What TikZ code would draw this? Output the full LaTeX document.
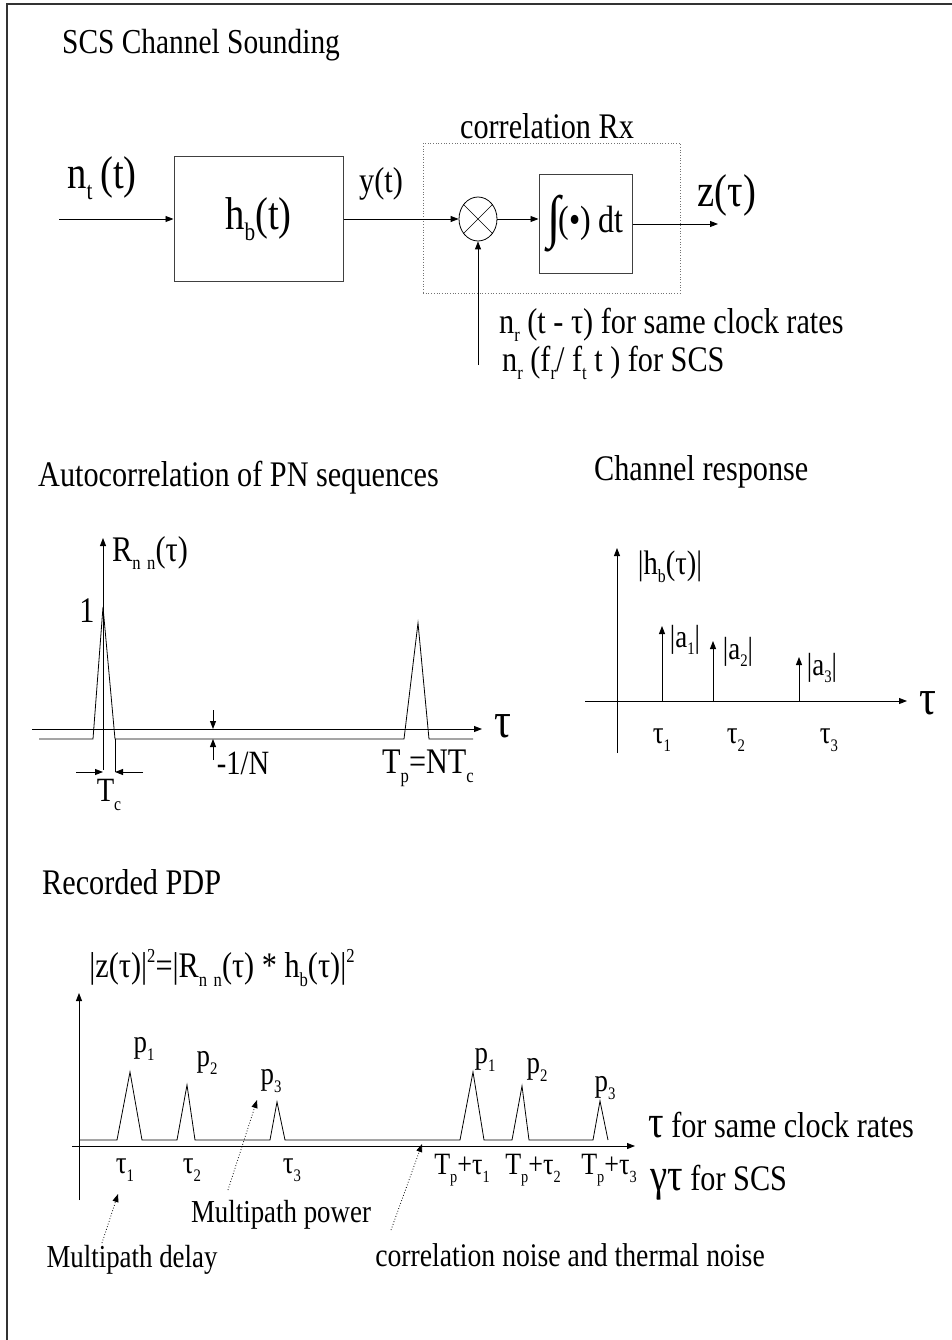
\documentclass[tikz,border=0pt]{standalone}
\usepackage{fontspec}
\setmainfont{Liberation Serif}[FakeStretch=0.84]
\usepackage{graphicx}
\usetikzlibrary{positioning,arrows.meta,shapes.geometric}
\newcommand{\fsz}[1]{\fontsize{#1}{#1}\selectfont}
\newcommand{\lowidx}[1]{\raisebox{-.24em}{\scalebox{.55}{#1}}}
\newcommand{\upidx}[1]{\raisebox{.42em}{\scalebox{.55}{#1}}}
\tikzset{
  sig/.style={-{Triangle[length=8pt,width=6pt]},line width=.9pt},
  trace/.style={line width=.8pt},
  dotsig/.style={-{Triangle[length=8pt,width=6pt]},dotted,line width=.8pt},
  blk/.style={draw=black!75,line width=1pt,inner sep=0pt},
  dotbox/.style={draw=black!55,dotted,line width=.7pt,inner sep=0pt},
  txt/.style={inner sep=0pt,font=\fsz{36}},
  bigtxt/.style={inner sep=0pt,font=\fsz{46}},
  smalltxt/.style={inner sep=0pt,font=\fsz{32}},
  heading/.style={inner sep=0pt,anchor=west,font=\fsz{36}},
}

\begin{document}
\begin{tikzpicture}[x=1pt,y=-1pt]
  \useasboundingbox (0,0) rectangle (952,1340);
  \draw[line width=1.2pt,black!80] (7,1340) -- (7,4) -- (952,4);

  % sounding chain
  \node[heading,font=\fsz{35}] (title) at (62,45) {SCS Channel Sounding};
  \node[blk,minimum width=169pt,minimum height=124pt,font=\fsz{46}] (hb) at (258.5,219) {h\lowidx{b}(t)};
  \coordinate (nin) at (59,219);
  \node[bigtxt] (ntlbl) at (102,178) {n\lowidx{t}\,(t)};
  \node[draw,ellipse,line width=.8pt,minimum width=38pt,minimum height=44pt,inner sep=0pt] (mix) at (478,219) {};
  \draw[line width=.6pt] (mix.45) -- (mix.225) (mix.135) -- (mix.315);
  \node[blk,minimum width=93pt,minimum height=98pt,font=\fsz{38}] (integ) at (585.5,224)
    {\raisebox{-.12em}{\fsz{58}∫}\kern-.05em(\textbullet) dt};
  \node[dotbox,minimum width=257pt,minimum height=150pt] (rx) at (551.5,218) {};
  \node[txt] (rxlbl) at (547,126) {correlation Rx};
  \coordinate (zout) at (718,224);
  \coordinate (nref) at (478,365);
  \draw[sig] (nin) -- (hb);
  \draw[sig] (hb) -- (mix);
  \draw[sig] (mix) -- (mix -| integ.west);
  \draw[sig] (integ.east) -- (zout);
  \draw[sig] (nref) -- (mix);
  \node[txt] (ylbl) at (381,184) {y(t)};
  \node[bigtxt] (zlbl) at (727,195) {z(τ)};
  \node[txt,anchor=west] (same) at (499,325) {n\lowidx{r} (t - τ) for same clock rates};
  \node[txt,anchor=west] (scs) at (502,363) {n\lowidx{r} (f\lowidx{r}/ f\lowidx{t} t ) for SCS};

  % autocorrelation
  \node[heading] (acttl) at (38,478) {Autocorrelation of PN sequences};
  \draw[sig] (32,729) -- (482,729);
  \draw[sig] (103,770) -- (103,538);
  \draw[trace] (39,739) -- (93,739) -- (103,607) -- (115,739) -- (404,739) -- (418,623) -- (429,739) -- (473,739);
  \draw[trace] (115,739) -- (115,772);
  \draw[sig] (76,772) -- (103,772);
  \draw[sig] (143,772) -- (115,772);
  \draw[sig] (213,710) -- (213,729);
  \draw[sig] (213,760) -- (213,739);
  \node[txt] (rnn) at (150,553) {R\lowidx{n\,\,n}(τ)};
  \node[txt] (one) at (87,611) {1};
  \node[txt,font=\fsz{34}] (invn) at (243,763) {-1/N};
  \node[txt,font=\fsz{34}] (tc) at (109,795) {T\lowidx{c}};
  \node[txt] (tp) at (428,768) {T\lowidx{p}=NT\lowidx{c}};
  \node[txt,font=\fsz{50}] (tauac) at (503,726) {τ};

  % channel response
  \node[heading] (chttl) at (594,472) {Channel response};
  \draw[sig] (585,701) -- (907,701);
  \draw[sig] (617,753) -- (617,548);
  \foreach \x/\hgt in {662/626,713/641,799/657}
    \draw[sig] (\x,701) -- (\x,\hgt);
  \node[txt,font=\fsz{34}] (hbabs) at (670,567) {|h\lowidx{b}(τ)|};
  \node[smalltxt] (a1) at (685,640) {|a\lowidx{1}|};
  \node[smalltxt] (a2) at (738,652) {|a\lowidx{2}|};
  \node[smalltxt] (a3) at (822,668) {|a\lowidx{3}|};
  \node[smalltxt] (ch1) at (662,740) {τ\lowidx{1}};
  \node[smalltxt] (ch2) at (736,740) {τ\lowidx{2}};
  \node[smalltxt] (ch3) at (829,740) {τ\lowidx{3}};
  \node[txt,font=\fsz{50}] (tauch) at (928,703) {τ};

  % recorded PDP
  \node[heading] (pdpttl) at (42,882) {Recorded PDP};
  \node[txt] (pdpeq) at (222,968) {|z(τ)|\upidx{2}=|R\lowidx{n\,\,n}(τ) * h\lowidx{b}(τ)|\upidx{2}};
  \draw[sig] (72,1146) -- (635,1146);
  \draw[sig] (79,1200) -- (79,993);
  \draw[trace] (79,1140) -- (117,1140) -- (130,1072) -- (142,1140) -- (177,1140) -- (187,1085) -- (195,1140)
    -- (270,1140) -- (277,1102) -- (285,1140) -- (460,1140) -- (473,1072) -- (484,1140) -- (512,1140)
    -- (522,1086) -- (529,1140) -- (593,1140) -- (600,1101) -- (608,1140);
  \foreach \x/\y/\k in {144/1049/1,207/1063/2,271/1081/3,485/1060/1,537/1070/2,605/1088/3}
    \node[smalltxt] at (\x,\y) {p\lowidx{\k}};
  \foreach \x/\k in {125/1,192/2,292/3}
    \node[smalltxt] at (\x,1170) {τ\lowidx{\k}};
  \foreach \x/\k in {462/1,533/2,609/3}
    \node[smalltxt,font=\fsz{31}] at (\x,1170) {T\lowidx{p}+τ\lowidx{\k}};
  \node[txt,anchor=west] (samerate) at (648,1125) {{\fsz{46}τ} for same clock rates};
  \node[txt,anchor=west] (scsrate) at (650,1183) {{\fsz{46}γτ} for SCS};

  % annotations
  \node[smalltxt] (mdelay) at (132,1260) {Multipath delay};
  \node[smalltxt] (mpower) at (281,1215) {Multipath power};
  \node[smalltxt,font=\fsz{33}] (cnoise) at (570,1255) {correlation noise and thermal noise};
  \draw[dotsig] (102,1243) -- (118,1194);
  \draw[dotsig] (228,1190) -- (257,1100);
  \draw[dotsig] (391,1230) -- (422,1144);
\end{tikzpicture}
\end{document}
